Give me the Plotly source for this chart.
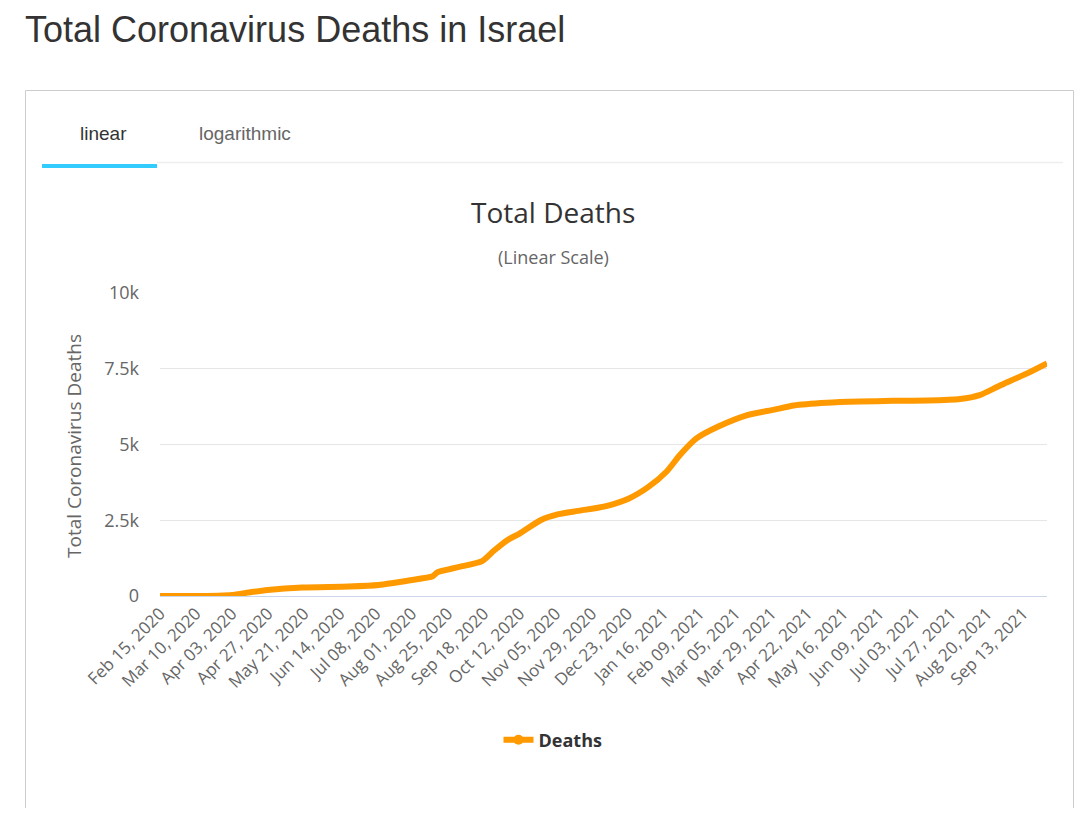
"""
Total Coronavirus Deaths in Israel - linear scale chart
"""

import plotly.graph_objects as go

# ---- data ----
dates = [
    "2020-02-15", "2020-03-10", "2020-03-25", "2020-04-03", "2020-04-16",
    "2020-04-27", "2020-05-20", "2020-06-20", "2020-07-10", "2020-07-30",
    "2020-08-15", "2020-08-18", "2020-09-01", "2020-09-17", "2020-09-25",
    "2020-10-04", "2020-10-12", "2020-10-26", "2020-11-07", "2020-11-20",
    "2020-12-08", "2020-12-24", "2021-01-06", "2021-01-18", "2021-01-27",
    "2021-02-07", "2021-02-22", "2021-03-13", "2021-03-31", "2021-04-13",
    "2021-05-05", "2021-05-27", "2021-06-18", "2021-07-11", "2021-08-02",
    "2021-08-15", "2021-08-28", "2021-09-15", "2021-09-29",
]
deaths = [
    0, 0, 10, 30, 130,
    200, 280, 310, 360, 510,
    650, 780, 950, 1150, 1500,
    1850, 2060, 2500, 2700, 2810,
    2960, 3220, 3600, 4100, 4650,
    5200, 5600, 5970, 6150, 6290,
    6380, 6420, 6440, 6450, 6500,
    6630, 6930, 7330, 7680,
]

tick_dates = [
    "2020-02-15", "2020-03-10", "2020-04-03", "2020-04-27", "2020-05-21",
    "2020-06-14", "2020-07-08", "2020-08-01", "2020-08-25", "2020-09-18",
    "2020-10-12", "2020-11-05", "2020-11-29", "2020-12-23", "2021-01-16",
    "2021-02-09", "2021-03-05", "2021-03-29", "2021-04-22", "2021-05-16",
    "2021-06-09", "2021-07-03", "2021-07-27", "2021-08-20", "2021-09-13",
]
y_ticks = [0, 2500, 5000, 7500, 10000]
y_tick_text = ["0", "2.5k", "5k", "7.5k", "10k"]

# figure sized so it fits inside the window with the page's 8px body margin
W, H = 1066, 800
OFF = 8
ORANGE = "#FF9900"
CHART_FONT = "Open Sans, Noto Sans, sans-serif"
PAGE_FONT = "Liberation Sans, Arial, sans-serif"


def px(x):
    return (x - OFF) / W


def py(y):
    return 1 - (y - OFF) / H


fig = go.Figure()

fig.add_trace(go.Scatter(
    x=dates,
    y=deaths,
    mode="lines",
    name="Deaths",
    showlegend=False,
    line=dict(color=ORANGE, width=6, shape="spline", smoothing=0.6),
    hovertemplate="%{x|%b %d, %Y}<br>Deaths: %{y}<extra></extra>",
))

# legend entry only (line with a round symbol like the original)
fig.add_trace(go.Scatter(
    x=[None], y=[None],
    mode="lines+markers",
    name="Deaths",
    line=dict(color=ORANGE, width=6),
    marker=dict(color=ORANGE, size=10, symbol="circle"),
))

fig.update_layout(
    width=W, height=H,
    margin=dict(l=0, r=0, t=0, b=0),
    paper_bgcolor="white",
    plot_bgcolor="white",
    showlegend=True,
    legend=dict(
        x=px(553), y=py(740), xanchor="center", yanchor="middle",
        font=dict(family=CHART_FONT, size=18, color="#333333", weight="bold"),
        bgcolor="rgba(0,0,0,0)",
    ),
    xaxis=dict(
        type="date",
        domain=[px(160), px(1047)],
        range=["2020-02-15", "2021-09-29"],
        tickvals=tick_dates,
        tickformat="%b %d, %Y",
        tickangle=-45,
        tickfont=dict(family=CHART_FONT, size=17, color="#666666"),
        showgrid=False,
        showline=True,
        linecolor="#ccd6eb",
        linewidth=1,
        ticks="",
        zeroline=False,
        automargin=False,
    ),
    yaxis=dict(
        domain=[py(596), py(293)],
        range=[0, 10000],
        tickvals=y_ticks,
        ticktext=y_tick_text,
        tickfont=dict(family=CHART_FONT, size=18, color="#666666"),
        showgrid=True,
        gridcolor="#e6e6e6",
        gridwidth=1,
        zeroline=False,
        ticks="",
        ticklabelstandoff=20,
        automargin=False,
    ),
)

# ---- page furniture: box, tabs, titles ----
fig.add_shape(type="rect", xref="paper", yref="paper",
              x0=px(25.5), x1=px(1073.5), y0=py(90.5), y1=py(850),
              line=dict(color="#cccccc", width=1), fillcolor="rgba(0,0,0,0)",
              layer="below")
fig.add_shape(type="line", xref="paper", yref="paper",
              x0=px(157), x1=px(1063), y0=py(162.5), y1=py(162.5),
              line=dict(color="#eeeeee", width=1.5))
fig.add_shape(type="rect", xref="paper", yref="paper",
              x0=px(42), x1=px(157), y0=py(164), y1=py(168),
              line=dict(width=0), fillcolor="#33ccff")

fig.add_annotation(text="Total Coronavirus Deaths in Israel",
                   xref="paper", yref="paper", x=px(24), y=1,
                   xanchor="left", yanchor="top", showarrow=False,
                   borderpad=0,
                   font=dict(family=PAGE_FONT, size=36, color="#333333"))
fig.add_annotation(text="linear", xref="paper", yref="paper",
                   x=px(103), y=py(134), xanchor="center", yanchor="middle",
                   showarrow=False,
                   font=dict(family=PAGE_FONT, size=19, color="#333333"))
fig.add_annotation(text="logarithmic", xref="paper", yref="paper",
                   x=px(245), y=py(134), xanchor="center", yanchor="middle",
                   showarrow=False,
                   font=dict(family=PAGE_FONT, size=19, color="#666666"))

fig.add_annotation(text="Total Deaths", xref="paper", yref="paper",
                   x=px(553), y=py(212), xanchor="center", yanchor="middle",
                   showarrow=False,
                   font=dict(family=CHART_FONT, size=28, color="#333333"))
fig.add_annotation(text="(Linear Scale)", xref="paper", yref="paper",
                   x=px(553), y=py(257), xanchor="center", yanchor="middle",
                   showarrow=False,
                   font=dict(family=CHART_FONT, size=18, color="#666666"))
fig.add_annotation(text="Total Coronavirus Deaths", xref="paper", yref="paper",
                   x=px(74), y=py(446), xanchor="center", yanchor="middle",
                   textangle=-90, showarrow=False,
                   font=dict(family=CHART_FONT, size=19, color="#666666"))

fig.write_html("out.html")
